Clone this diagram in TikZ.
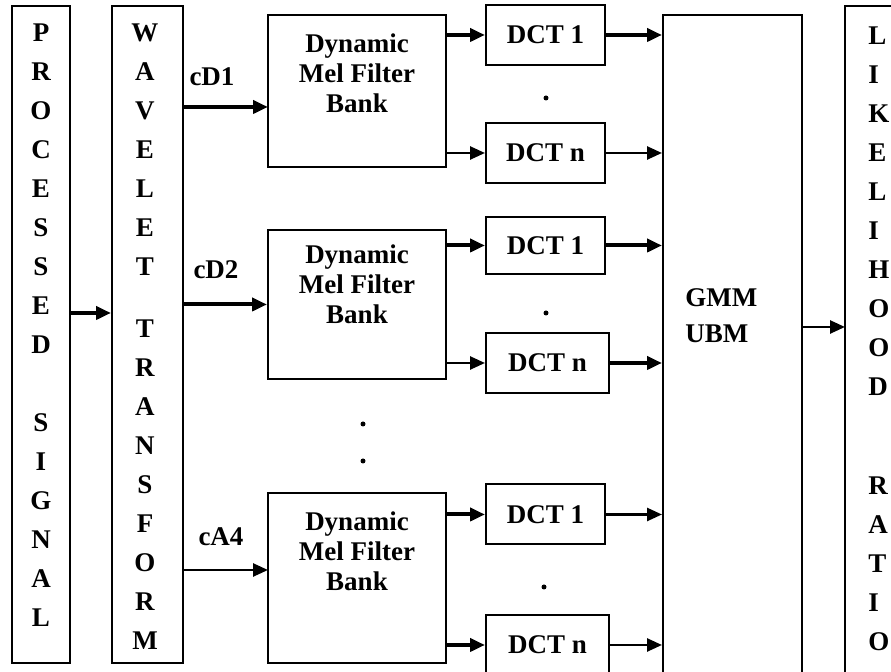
\documentclass[tikz,border=0pt]{standalone}
\usepackage{fontspec}
\setmainfont{Liberation Serif}
\usetikzlibrary{arrows.meta,positioning}

\begin{document}
\begin{tikzpicture}[x=0.5pt, y=-0.5pt,
    box/.style={draw, line width=1pt, inner sep=0pt},
    fbank/.style={box, minimum width=89pt},
    dct/.style={box, minimum width=59.5pt, minimum height=30pt, font=\fontsize{13.5}{15}\selectfont\bfseries},
    stack/.style={align=center, inner sep=0pt, anchor=north, font=\fontsize{13.5}{19.5}\selectfont\bfseries},
    fblabel/.style={align=center, inner sep=0pt, anchor=north, font=\fontsize{13.5}{15}\selectfont\bfseries},
    tag/.style={inner sep=0pt, font=\fontsize{13.5}{15}\selectfont\bfseries},
    dotmark/.style={circle, fill, inner sep=0pt, minimum size=2.5pt},
    thickflow/.style={-{Triangle[length=7.5pt, width=6.5pt]}, line width=2pt},
    thinflow/.style={-{Triangle[length=7.5pt, width=6.5pt]}, line width=1.3pt}
]
    \useasboundingbox (0,0) rectangle (891,672);
    \clip (0,0) rectangle (891,672);
    \fill[white] (0,0) rectangle (891,672);

    % input and wavelet columns
    \node[box, minimum width=29pt, minimum height=328.5pt] (proc) at (41,334.5) {};
    \node[box, minimum width=35.5pt, minimum height=328.5pt] (wave) at (147.5,334.5) {};
    \node[stack] (proctxt) at (41,23.9) {P\\R\\O\\C\\E\\S\\S\\E\\D\\[19.5pt]S\\I\\G\\N\\A\\L};
    \node[stack] (wavetxt) at (145,23.9) {W\\A\\V\\E\\L\\E\\T\\[11.5pt]T\\R\\A\\N\\S\\F\\O\\R\\M};

    % filter banks
    \node[fbank, minimum height=76pt] (fba) at (357,91) {};
    \node[fbank, minimum height=74.5pt] (fbb) at (357,304.5) {};
    \node[fbank, minimum height=85pt] (fbc) at (357,578) {};
    \node[fblabel] (fbatxt) at (357,32.9) {Dynamic\\Mel Filter\\Bank};
    \node[fblabel] (fbbtxt) at (357,243.9) {Dynamic\\Mel Filter\\Bank};
    \node[fblabel] (fbctxt) at (357,510.9) {Dynamic\\Mel Filter\\Bank};

    \node[tag] (cda) at (212,77) {cD1};
    \node[tag] (cdb) at (216,270) {cD2};
    \node[tag] (cac) at (221,537) {cA4};

    % DCT blocks
    \node[dct] (dcta1) at (545.5,35) {DCT 1};
    \node[dct] (dctan) at (545.5,153) {DCT n};
    \node[dct, minimum height=28.5pt] (dctb1) at (545.5,245.5) {DCT 1};
    \node[dct, minimum width=61.5pt] (dctbn) at (547.5,363) {DCT n};
    \node[dct] (dctc1) at (545.5,514.5) {DCT 1};
    \node[dct, minimum width=61.5pt] (dctcn) at (547.5,645) {DCT n};

    \node[dotmark] (dota) at (546,98) {};
    \node[dotmark] (dotb) at (546,313) {};
    \node[dotmark] (dotc) at (544,587) {};
    \node[dotmark] (dotd) at (363,424) {};
    \node[dotmark] (dote) at (363,461) {};

    % model and output
    \node[box, minimum width=69.5pt, minimum height=342.5pt] (gmm) at (732.5,357.5) {};
    \node[fblabel, anchor=north west, align=left, font=\fontsize{13.5}{18}\selectfont\bfseries] (gmmtxt) at (685,287.9) {GMM\\UBM};
    \node[box, minimum width=45pt, minimum height=347pt] (ratio) at (890,353) {};
    \node[stack, anchor=north west, align=left] (ratiotxt) at (868,26.9) {L\\I\\K\\E\\L\\I\\H\\O\\O\\D\\[30pt]R\\A\\T\\I\\O};

    \coordinate (ina) at (268,107);
    \coordinate (inc) at (268,570);
    \coordinate (outr) at (845,327);

    \draw[thickflow] ([yshift=10.75pt]proc.east) -- ([yshift=10.75pt]wave.west);
    \draw[thickflow] (wave.east |- ina) -- (ina);
    \draw[thickflow] (wave.east |- fbb.west) -- (fbb.west);
    \draw[thinflow] (wave.east |- inc) -- (inc);

    \draw[thickflow] (fba.east |- dcta1.west) -- (dcta1.west);
    \draw[thinflow] (fba.east |- dctan.west) -- (dctan.west);
    \draw[thickflow] (fbb.east |- dctb1.west) -- (dctb1.west);
    \draw[thinflow] (fbb.east |- dctbn.west) -- (dctbn.west);
    \draw[thickflow] (fbc.east |- dctc1.west) -- (dctc1.west);
    \draw[thickflow] (fbc.east |- dctcn.west) -- (dctcn.west);

    \draw[thickflow] (dcta1.east) -- (gmm.west |- dcta1.east);
    \draw[thinflow] (dctan.east) -- (gmm.west |- dctan.east);
    \draw[thickflow] (dctb1.east) -- (gmm.west |- dctb1.east);
    \draw[thickflow] (dctbn.east) -- (gmm.west |- dctbn.east);
    \draw[thinflow] (dctc1.east) -- (gmm.west |- dctc1.east);
    \draw[thinflow] (dctcn.east) -- (gmm.west |- dctcn.east);

    \draw[thinflow] (gmm.east |- outr) -- (outr);
\end{tikzpicture}
\end{document}
